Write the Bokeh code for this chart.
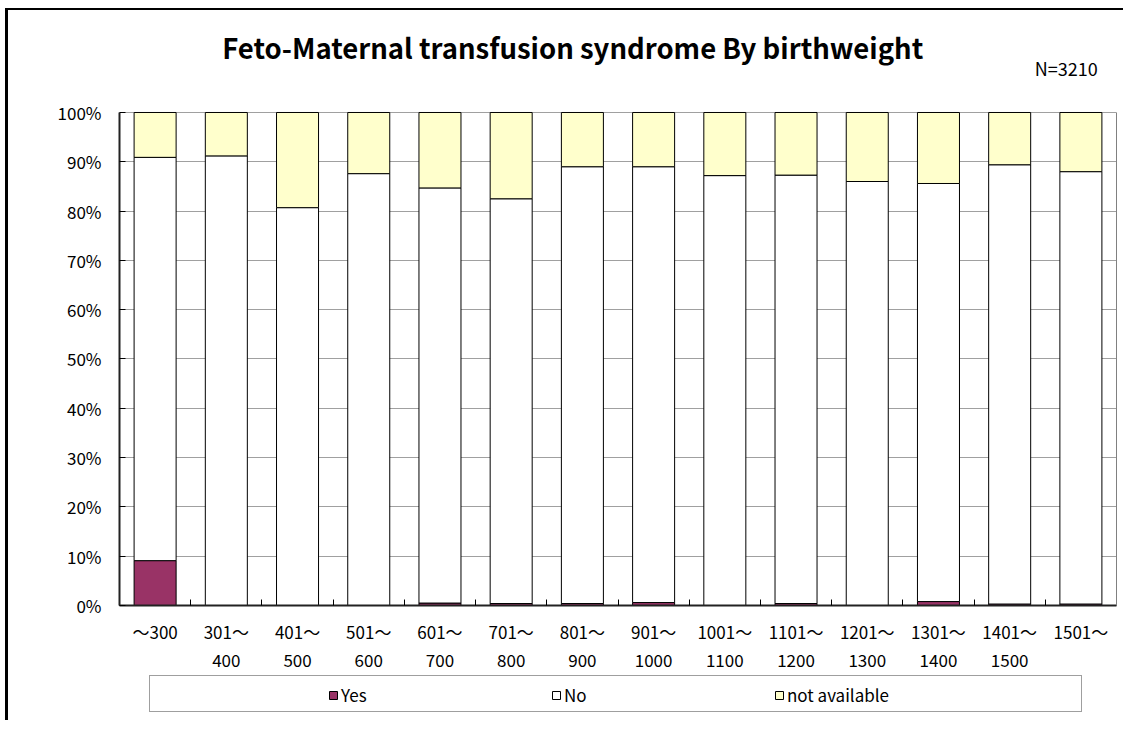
from bokeh.plotting import figure
from bokeh.layouts import column
from bokeh.models import (ColumnDataSource, FixedTicker, Legend, LegendItem, Label, LinearAxis,
                          NumeralTickFormatter, Range1d)
from bokeh.embed import file_html
from bokeh.resources import INLINE

# ---- data (percent) ----
categories = ["～300", "301～\n400", "401～\n500", "501～\n600", "601～\n700",
              "701～\n800", "801～\n900", "901～\n1000", "1001～\n1100",
              "1101～\n1200", "1201～\n1300", "1301～\n1400", "1401～\n1500", "1501～"]
yes = [9.1, 0.0, 0.0, 0.0, 0.5, 0.4, 0.4, 0.6, 0.0, 0.4, 0.0, 0.8, 0.3, 0.3]
no = [81.8, 91.2, 80.7, 87.6, 84.2, 82.1, 88.6, 88.4, 87.2, 86.9, 86.0, 84.8, 89.1, 87.7]
na = [9.1, 8.8, 19.3, 12.4, 15.3, 17.5, 11.0, 11.0, 12.8, 12.7, 14.0, 14.4, 10.6, 12.0]
series = ["Yes", "No", "not available"]
colors = ["#993366", "#ffffff", "#ffffcc"]
y_ticks = [0.0, 0.1, 0.2, 0.3, 0.4, 0.5, 0.6, 0.7, 0.8, 0.9, 1.0]
title_text = "Feto-Maternal transfusion syndrome By birthweight"
n_text = "N=3210"

FONT = "Noto Sans CJK JP"

n = len(categories)
xs = [i + 0.5 for i in range(n)]
src = ColumnDataSource(dict(
    x=xs,
    yes=[v / 100 for v in yes],
    no=[v / 100 for v in no],
    na=[v / 100 for v in na],
))

# ---------------- main chart ----------------
# the frame extends above 100% so that the title lives inside it
p = figure(width=1115, height=665, x_range=Range1d(0, n), y_range=Range1d(0, 1.1866),
           output_backend="svg", toolbar_location=None,
           min_border_left=111, min_border_right=7, min_border_top=10, min_border_bottom=70)

rs = p.vbar_stack(["yes", "no", "na"], x="x", width=0.59, source=src,
                  fill_color=colors, line_color="black", line_width=1)

# x axis
p.xaxis.ticker = FixedTicker(ticks=xs, minor_ticks=list(range(n + 1)))
p.xaxis.major_label_overrides = {x: c for x, c in zip(xs, categories)}
p.xaxis.major_tick_line_color = None
p.xaxis.major_tick_in = 0
p.xaxis.major_tick_out = 0
p.xaxis.minor_tick_in = 6
p.xaxis.minor_tick_out = 0
p.xaxis.minor_tick_line_color = "black"
p.xaxis.major_label_standoff = 13
p.xaxis.major_label_text_font = FONT
p.xaxis.major_label_text_font_size = "17px"
p.xaxis.major_label_text_color = "black"
p.xaxis.major_label_text_line_height = 1.14
p.xaxis.axis_line_color = "#222222"
p.xaxis.axis_line_width = 2

# y axis
p.yaxis.ticker = FixedTicker(ticks=y_ticks)
p.yaxis.bounds = (0, 1)
p.yaxis.formatter = NumeralTickFormatter(format="0%")
p.yaxis.major_tick_in = 6
p.yaxis.major_tick_out = 0
p.yaxis.major_tick_line_color = "black"
p.yaxis.minor_tick_line_color = None
p.yaxis.major_label_standoff = 18
p.yaxis.major_label_text_font = FONT
p.yaxis.major_label_text_font_size = "17px"
p.yaxis.major_label_text_color = "black"
p.yaxis.axis_line_color = "#222222"
p.yaxis.axis_line_width = 2

# right edge of the plot area
right = LinearAxis(ticker=FixedTicker(ticks=[]), bounds=(0, 1), axis_line_color="#808080",
                   axis_line_width=1, major_tick_line_color=None, minor_tick_line_color=None,
                   major_label_text_font_size="0px")
p.add_layout(right, "right")

p.xgrid.visible = False
p.ygrid.ticker = FixedTicker(ticks=y_ticks)
p.ygrid.grid_line_color = "#a0a0a0"
p.ygrid.grid_line_width = 1
p.outline_line_color = None

# title and N inside the (extended) frame
p.add_layout(Label(x=1.443, y=1.1333, text=title_text, text_align="left", text_baseline="middle",
                   text_font=FONT, text_font_size="27.5px", text_font_style="bold",
                   text_color="black"))
p.add_layout(Label(x=13.737, y=1.0899, text=n_text, text_align="right", text_baseline="middle",
                   text_font=FONT, text_font_size="18px", text_color="black"))

# ---------------- legend strip ----------------
p2 = figure(width=1115, height=45, x_range=Range1d(0, n), y_range=Range1d(0, 1),
            x_axis_location=None, y_axis_location=None,
            output_backend="svg", toolbar_location=None,
            min_border_left=111, min_border_right=7, min_border_top=0, min_border_bottom=4)
p2.grid.visible = False
p2.outline_line_color = None

# proxies for the legend glyphs (hidden, same styling as the bars)
lr = [p2.vbar(x="x", top=col, width=0.59, source=src, fill_color=c, line_color="black",
              visible=False) for col, c in zip(["yes", "no", "na"], colors)]
box_r = p2.vbar(x="x", top="yes", width=0.59, source=src, fill_alpha=0, line_alpha=0,
                visible=False)

box_legend = Legend(items=[LegendItem(label=" ", renderers=[box_r])], location=(30, 4),
                    orientation="horizontal", padding=5, margin=0, spacing=0,
                    glyph_width=10, glyph_height=25, label_standoff=0, label_width=911,
                    label_text_font_size="8px", inactive_fill_alpha=0,
                    border_line_color="#404040", border_line_width=1,
                    background_fill_color="white", background_fill_alpha=1)
p2.add_layout(box_legend)

legend = Legend(items=[LegendItem(label=s, renderers=[r]) for s, r in zip(series, lr)],
                location=(209, 9), orientation="horizontal", padding=0, margin=0,
                spacing=0, glyph_width=10, glyph_height=10, label_standoff=3, label_width=210,
                label_text_font=FONT, label_text_font_size="17px", label_text_color="black",
                inactive_fill_alpha=0,
                border_line_color=None, background_fill_alpha=0)
p2.add_layout(legend)

layout = column(p, p2, spacing=0)
layout.styles = {"margin-left": "5px", "margin-top": "8px",
                 "border-left": "3px solid black", "border-top": "2px solid black"}

open("out.html", "w").write(file_html(layout, INLINE))
